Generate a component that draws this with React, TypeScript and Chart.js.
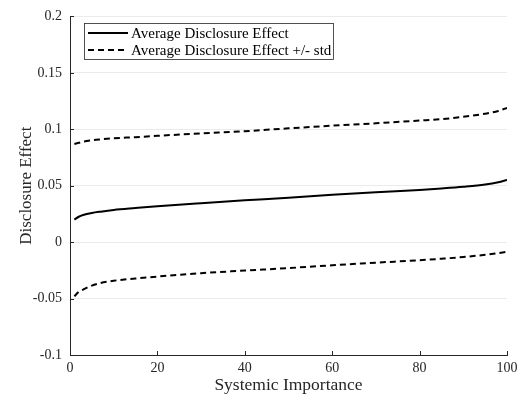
import React, { useEffect, useRef } from "react";
import { Chart, registerables } from "chart.js";
Chart.register(...registerables);

const xValues = [1, 2, 3, 5, 7, 10, 15, 20, 30, 40, 50, 60, 70, 80, 85, 90, 95, 98, 100];
const meanEffect = [0.020, 0.0225, 0.024, 0.0258, 0.027, 0.0285, 0.0302, 0.0318, 0.0345, 0.037, 0.0393, 0.042, 0.0443, 0.0462, 0.0475, 0.049, 0.051, 0.053, 0.055];
const upperEffect = [0.087, 0.088, 0.089, 0.0902, 0.091, 0.092, 0.093, 0.0942, 0.0963, 0.0983, 0.1008, 0.1032, 0.1053, 0.1077, 0.109, 0.111, 0.1138, 0.1162, 0.119];
const lowerEffect = [-0.048, -0.044, -0.042, -0.0385, -0.0362, -0.0342, -0.0322, -0.0305, -0.0275, -0.0252, -0.0230, -0.0205, -0.0182, -0.0160, -0.0147, -0.0132, -0.0112, -0.0097, -0.0085];
const xTicks = [0, 20, 40, 60, 80, 100];
const yTicks = [-0.1, -0.05, 0, 0.05, 0.1, 0.15, 0.2];
const yTickLabels = ["-0.1", "-0.05", "0", "0.05", "0.1", "0.15", "0.2"];
const labelMean = "Average Disclosure Effect";
const labelStd = "Average Disclosure Effect +/- std";

const FONT = "'Liberation Serif', 'DejaVu Serif', serif";
const AXIS_COLOR = "#262626";

const pts = (ys: number[]) => xValues.map((x, i) => ({ x, y: ys[i] }));

const overlay = {
  id: "overlay",
  afterDatasetsDraw(chart: any) {
    const { ctx, chartArea, scales } = chart;
    const xs = scales.x, ys = scales.y;
    ctx.save();
    ctx.strokeStyle = AXIS_COLOR;
    ctx.lineWidth = 1;
    ctx.beginPath();
    xTicks.forEach((v) => {
      const px = Math.round(xs.getPixelForValue(v)) + 0.5;
      ctx.moveTo(px, chartArea.bottom);
      ctx.lineTo(px, chartArea.bottom - 4);
    });
    yTicks.forEach((v) => {
      const py = Math.round(ys.getPixelForValue(v)) + 0.5;
      ctx.moveTo(chartArea.left, py);
      ctx.lineTo(chartArea.left + 4, py);
    });
    ctx.stroke();
    // legend
    const lx = 84, ly = 23, lw = 249, lh = 36;
    ctx.fillStyle = "#ffffff";
    ctx.fillRect(lx, ly, lw, lh);
    ctx.strokeStyle = "#262626";
    ctx.lineWidth = 0.8;
    ctx.strokeRect(lx + 0.5, ly + 0.5, lw, lh);
    const ds = chart.data.datasets;
    [ds[0], ds[1]].forEach((d: any, i: number) => {
      const yy = ly + 10 + i * 17;
      ctx.beginPath();
      ctx.strokeStyle = "#000";
      ctx.lineWidth = 2;
      ctx.setLineDash(d.borderDash || []);
      ctx.moveTo(lx + 4, yy);
      ctx.lineTo(lx + 44, yy);
      ctx.stroke();
      ctx.setLineDash([]);
      ctx.fillStyle = "#000";
      ctx.font = `15px ${FONT}`;
      ctx.textBaseline = "middle";
      ctx.textAlign = "left";
      ctx.fillText(d.label, lx + 47, yy + 1);
    });
    ctx.restore();
  },
};

export default function App() {
  const ref = useRef<HTMLCanvasElement>(null);
  useEffect(() => {
    const common = { borderColor: "#000", borderWidth: 2, pointRadius: 0, cubicInterpolationMode: "monotone" as const, fill: false };
    const chart = new Chart(ref.current!, {
      type: "line",
      data: {
        datasets: [
          { label: labelMean, data: pts(meanEffect), ...common },
          { label: labelStd, data: pts(upperEffect), borderDash: [6, 4], ...common },
          { label: labelStd + " ", data: pts(lowerEffect), borderDash: [6, 4], ...common },
        ],
      },
      options: {
        animation: false,
        responsive: false,
        maintainAspectRatio: false,
        layout: { padding: { top: 9, right: 19, left: 12, bottom: 0 } },
        plugins: { legend: { display: false }, tooltip: { enabled: false } },
        scales: {
          x: {
            type: "linear",
            min: 0,
            max: 100,
            afterBuildTicks: (s: any) => { s.ticks = xTicks.map((v) => ({ value: v })); },
            afterFit: (s: any) => { s.height = 45; },
            grid: { display: false, drawTicks: false },
            border: { display: true, color: AXIS_COLOR, width: 1 },
            ticks: { color: "#262626", font: { family: FONT, size: 14 }, padding: 5, maxRotation: 0 },
            title: { display: true, text: "Systemic Importance", color: "#262626", font: { family: FONT, size: 17.5 }, padding: { top: 0 } },
          },
          y: {
            type: "linear",
            min: -0.1,
            max: 0.2,
            afterBuildTicks: (s: any) => { s.ticks = yTicks.map((v) => ({ value: v })); },
            afterFit: (s: any) => { s.width = 58; },
            grid: { display: true, drawTicks: false, color: "#ebebeb", lineWidth: 1 },
            border: { display: true, color: AXIS_COLOR, width: 1 },
            ticks: {
              color: "#262626",
              font: { family: FONT, size: 14 },
              padding: 8,
              callback: (v: any) => { const i = yTicks.findIndex((t) => Math.abs(t - v) < 1e-9); return i >= 0 ? yTickLabels[i] : ""; },
            },
            title: { display: true, text: "Disclosure Effect", color: "#262626", font: { family: FONT, size: 17 }, padding: { top: 4, bottom: 4 } },
          },
        },
      },
      plugins: [overlay],
    });
    return () => chart.destroy();
  }, []);
  return (
    <div style={{ position: "fixed", left: 0, top: 0, width: 526, height: 400, background: "#fff" }}>
      <canvas ref={ref} width={526} height={400} style={{ width: 526, height: 400 }} />
    </div>
  );
}
